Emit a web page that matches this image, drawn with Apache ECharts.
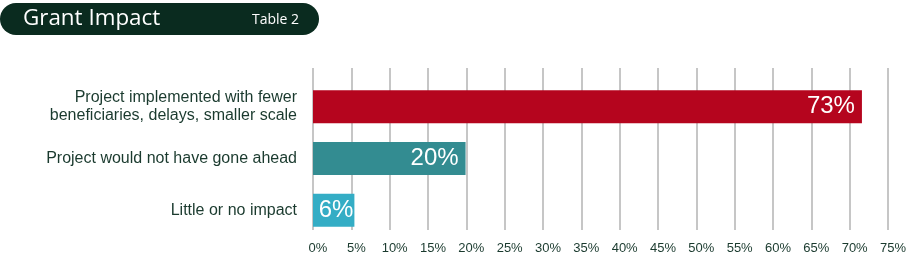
<!DOCTYPE html>
<html><head><meta charset="utf-8">
<style>html,body{margin:0;padding:0;background:#fff;}#c{width:910px;height:258px;}</style>
<script src="https://cdn.jsdelivr.net/npm/echarts@6/dist/echarts.min.js"></script>
</head><body><div id="c"></div>
<script>
var categories = ["Project implemented with fewer\nbeneficiaries, delays, smaller scale", "Project would not have gone ahead", "Little or no impact"];
var values = [71.6, 19.9, 5.4];
var valueLabels = ["73%", "20%", "6%"];
var barColors = ["#b5051e", "#338c91", "#34adc5"];
var tickLabels = ["0%","5%","10%","15%","20%","25%","30%","35%","40%","45%","50%","55%","60%","65%","70%","75%"];

var chart = echarts.init(document.getElementById('c'), null, {renderer:'canvas'});
var option = {
  animation: false,
  backgroundColor: '#fff',
  graphic: [
    {type:'rect', shape:{x:0, y:3, width:319, height:32, r:16}, style:{fill:'#0a2b1f'}},
    {type:'text', x:23, y:19, style:{text:'Grant Impact', fill:'#fff', font:'22.4px "Open Sans"', verticalAlign:'middle'}},
    {type:'text', x:252, y:20, style:{text:'Table 2', fill:'#fff', font:'14px "Open Sans"', verticalAlign:'middle'}}
  ],
  grid: [
    {left:313, right:22, top:68, bottom:28},
    {left:313, right:22, top:81, height:155}
  ],
  xAxis: [
    {gridIndex:0, type:'value', min:0, max:75, interval:5,
     axisLine:{show:false}, axisTick:{show:false},
     splitLine:{show:true, lineStyle:{color:'#b3b3b3', width:1.5}},
     axisLabel:{margin:12, color:'#1a3a2e', fontFamily:'Liberation Sans', fontSize:13, padding:[0,0,0,10],
       formatter:function(v){return tickLabels[Math.round(v/5)];}}},
    {gridIndex:1, type:'value', min:0, max:75, interval:5, show:false}
  ],
  yAxis: [
    {gridIndex:0, type:'value', show:false},
    {gridIndex:1, type:'category', data:categories, inverse:true,
     axisLine:{show:false}, axisTick:{show:false},
     axisLabel:{margin:16, color:'#1a3a2e', fontFamily:'Liberation Sans', fontSize:16, lineHeight:18.5, align:'right'}}
  ],
  series: [{
    type:'bar', xAxisIndex:1, yAxisIndex:1, barWidth:33,
    data: values.map(function(v,i){
      return {value:v, itemStyle:{color:barColors[i]},
        label:{show:true, position:'insideRight', distance: i===2?1:7, formatter:valueLabels[i],
          color:'#fff', fontFamily:'Liberation Sans', fontSize:24}};
    })
  }]
};
chart.setOption(option);
</script></body></html>
